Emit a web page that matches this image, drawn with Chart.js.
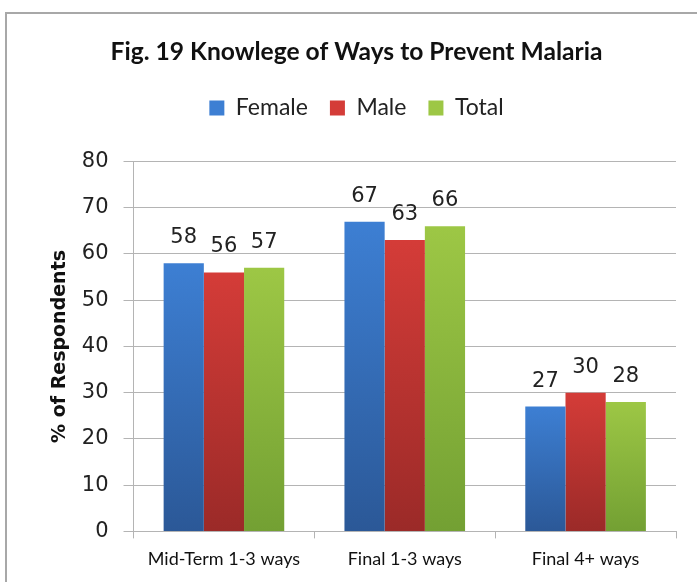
<!DOCTYPE html>
<html>
<head>
<meta charset="utf-8">
<script src="https://cdn.jsdelivr.net/npm/chart.js@4"></script>
<style>
  html, body { margin: 0; padding: 0; background: #fff; }
  #frame {
    position: absolute; left: 5px; top: 12px; width: 692px; height: 570px;
    border-left: 2px solid #a8a8a8; border-top: 2px solid #a8a8a8;
  }
  #wrap { position: absolute; left: 0; top: 0; width: 692px; height: 570px; }
</style>
</head>
<body>
<div id="frame"><div id="wrap"><canvas id="barChart"></canvas></div></div>
<script>
// values
const categories = ['Mid-Term 1-3 ways', 'Final 1-3 ways', 'Final 4+ ways'];
const female = [58, 67, 27];
const male = [56, 63, 30];
const total = [57, 66, 28];
const yTicks = [0, 10, 20, 30, 40, 50, 60, 70, 80];

// light at the top, darker at the base, like the office 2007 bars
function barFill(light, dark) {
    return function(ctx) {
        const chart = ctx.chart;
        if (!chart.chartArea || ctx.raw === undefined) return light;
        const y = chart.scales.y;
        const top = y.getPixelForValue(ctx.raw);
        const bottom = y.getPixelForValue(0);
        const g = chart.ctx.createLinearGradient(0, top, 0, bottom);
        g.addColorStop(0, light);
        g.addColorStop(1, dark);
        return g;
    };
}

const valueLabels = {
    id: 'valueLabels',
    afterDatasetsDraw(chart) {
        const c = chart.ctx;
        c.save();
        c.font = '21px "DejaVu Sans"';
        c.fillStyle = '#222';
        c.textAlign = 'center';
        c.textBaseline = 'alphabetic';
        chart.data.datasets.forEach(function(ds, i) {
            chart.getDatasetMeta(i).data.forEach(function(bar, j) {
                c.fillText(ds.data[j], bar.x, bar.y - 20);
            });
        });
        c.restore();
    }
};

// more room between the legend and the plot
const legendGap = {
    id: 'legendGap',
    beforeInit(chart) {
        const fit = chart.legend.fit;
        chart.legend.fit = function() {
            fit.bind(chart.legend)();
            this.height += 32;
        };
    }
};

const gridColor = '#b4b4b4';

new Chart(document.getElementById('barChart'), {
    type: 'bar',
    data: {
        labels: categories,
        datasets: [
            { label: 'Female', data: female, backgroundColor: barFill('#3d7fd3', '#2b5897') },
            { label: 'Male', data: male, backgroundColor: barFill('#d43c38', '#9b2a28') },
            { label: 'Total', data: total, backgroundColor: barFill('#9dc745', '#73a033') }
        ]
    },
    options: {
        responsive: true,
        maintainAspectRatio: false,
        animation: false,
        layout: { padding: { left: 30, right: 23, top: 0, bottom: 4 } },
        datasets: { bar: { categoryPercentage: 0.667, barPercentage: 1 } },
        plugins: {
            title: {
                display: true,
                text: 'Fig. 19 Knowlege of Ways to Prevent Malaria',
                color: '#111',
                font: { family: 'Lato', size: 24.6, weight: 'bold' },
                padding: { top: 23, bottom: 8 }
            },
            legend: {
                position: 'top',
                labels: {
                    color: '#222',
                    boxWidth: 15,
                    boxHeight: 15,
                    padding: 22,
                    font: { family: 'Lato', size: 23 }
                }
            },
            tooltip: { enabled: false }
        },
        scales: {
            y: {
                min: 0,
                max: 80,
                afterBuildTicks: function(axis) {
                    axis.ticks = yTicks.map(v => ({ value: v }));
                },
                title: {
                    display: true,
                    text: '% of Respondents',
                    color: '#111',
                    font: { family: 'DejaVu Sans', size: 19, weight: 'bold' },
                    padding: { top: 12, bottom: -5 }
                },
                ticks: {
                    color: '#222',
                    padding: 15,
                    font: { family: 'DejaVu Sans', size: 21 }
                },
                grid: { color: gridColor, tickLength: 10 },
                border: { color: gridColor }
            },
            x: {
                ticks: {
                    color: '#111',
                    padding: 10,
                    font: { family: 'Lato', size: 18 }
                },
                grid: { color: gridColor, drawOnChartArea: false, tickLength: 7 },
                border: { color: gridColor }
            }
        }
    },
    plugins: [valueLabels, legendGap]
});
</script>
</body>
</html>
